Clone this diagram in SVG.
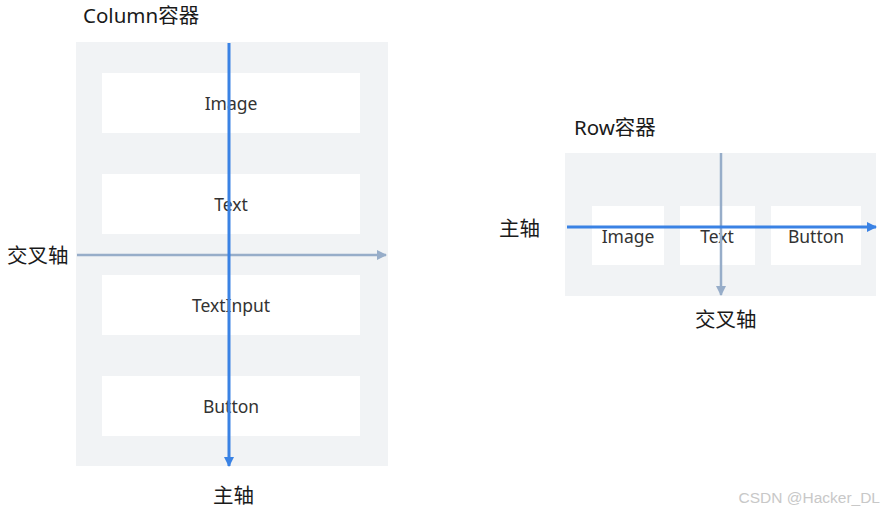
<svg xmlns="http://www.w3.org/2000/svg" width="884" height="513" viewBox="0 0 884 513">
<style>
.t{font-family:"Noto Sans","Noto Sans CJK SC",sans-serif;fill:#1a1a1a}
.title{font-size:20.5px}
.lbl{font-size:17.5px;fill:#333;text-anchor:middle}
.cont{fill:#f1f3f5}
.item{fill:#ffffff}
.main{stroke:#3a82e4;stroke-width:3;fill:none}
.cross{stroke:#97adc9;stroke-width:2.5;fill:none}
</style>
<defs>
<marker id="ab" markerWidth="10" markerHeight="10" refX="9" refY="5" orient="auto" markerUnits="userSpaceOnUse"><path d="M0,0 L10,5 L0,10 z" fill="#3a82e4"/></marker>
<marker id="ag" markerWidth="10" markerHeight="10" refX="9" refY="5" orient="auto" markerUnits="userSpaceOnUse"><path d="M0,0 L10,5 L0,10 z" fill="#97adc9"/></marker>
</defs>
<rect width="884" height="513" fill="#ffffff"/>
<g id="column">
<text class="t title" x="83" y="23">Column容器</text>
<rect class="cont" x="76" y="42" width="312" height="424"/>
<g id="col-image"><rect class="item" x="102" y="73" width="258" height="60"/><text class="t lbl" x="231" y="110">Image</text></g>
<g id="col-text"><rect class="item" x="102" y="174" width="258" height="60"/><text class="t lbl" x="231" y="211">Text</text></g>
<g id="col-textinput"><rect class="item" x="102" y="275" width="258" height="60"/><text class="t lbl" x="231" y="312">TextInput</text></g>
<g id="col-button"><rect class="item" x="102" y="376" width="258" height="60"/><text class="t lbl" x="231" y="413">Button</text></g>
<text class="t title" x="7" y="263">交叉轴</text>
<text class="t title" x="213" y="503">主轴</text>
</g>
<g id="row">
<text class="t title" x="574" y="135">Row容器</text>
<rect class="cont" x="565" y="153" width="311" height="143"/>
<g id="row-image"><rect class="item" x="592" y="206" width="72" height="59"/><text class="t lbl" x="628" y="243">Image</text></g>
<g id="row-text"><rect class="item" x="680" y="206" width="75" height="59"/><text class="t lbl" x="717" y="243">Text</text></g>
<g id="row-button"><rect class="item" x="771" y="206" width="90" height="59"/><text class="t lbl" x="816" y="243">Button</text></g>
<text class="t title" x="499" y="236">主轴</text>
<text class="t title" x="695" y="327">交叉轴</text>
</g>
<g id="connectors">
<line class="cross" x1="77" y1="255" x2="386" y2="255" marker-end="url(#ag)"/>
<line class="main" x1="229" y1="43" x2="229" y2="466" marker-end="url(#ab)"/>
<line class="cross" x1="721" y1="153" x2="721" y2="295" marker-end="url(#ag)"/>
<line class="main" x1="567" y1="227" x2="876" y2="227" marker-end="url(#ab)"/>
</g>
<text x="880" y="503" font-family="Liberation Sans, sans-serif" font-size="15.5" fill="#c8c8c8" text-anchor="end">CSDN @Hacker_DL</text>
</svg>
